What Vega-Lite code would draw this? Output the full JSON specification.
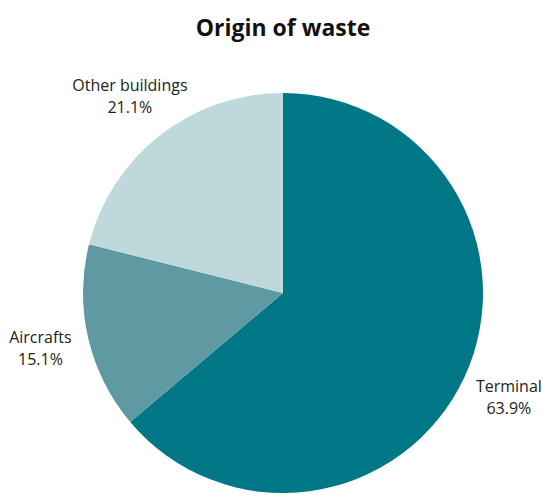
{
  "$schema": "https://vega.github.io/schema/vega-lite/v6.json",
  "autosize": "none",
  "width": 400,
  "height": 400,
  "padding": {"left": 83, "top": 93, "right": 59, "bottom": 2},
  "background": "white",
  "title": {
    "text": "Origin of waste",
    "font": "Open Sans",
    "fontSize": 23,
    "fontWeight": "bold",
    "color": "#111111",
    "anchor": "middle",
    "baseline": "alphabetic",
    "offset": 19
  },
  "data": {
    "values": [
      {"category": "Terminal", "share": 0.639, "rank": 1},
      {"category": "Aircrafts", "share": 0.151, "rank": 2},
      {"category": "Other buildings", "share": 0.211, "rank": 3}
    ]
  },
  "encoding": {
    "theta": {"field": "share", "type": "quantitative", "stack": true},
    "order": {"field": "rank", "type": "quantitative"},
    "color": {
      "field": "category",
      "type": "nominal",
      "scale": {
        "domain": ["Terminal", "Aircrafts", "Other buildings"],
        "range": ["#007786", "#5F99A1", "#BFD8DB"]
      },
      "legend": null
    }
  },
  "layer": [
    {"mark": {"type": "arc", "outerRadius": 200}},
    {
      "mark": {"type": "text", "radius": 249, "dy": -11, "font": "Open Sans", "fontSize": 16, "color": "#222222"},
      "encoding": {"text": {"field": "category", "type": "nominal"}, "color": {"value": "#222222"}}
    },
    {
      "mark": {"type": "text", "radius": 249, "dy": 11, "font": "Open Sans", "fontSize": 16, "color": "#222222"},
      "encoding": {"text": {"field": "share", "type": "quantitative", "format": ".1%"}, "color": {"value": "#222222"}}
    }
  ],
  "view": {"stroke": null}
}
